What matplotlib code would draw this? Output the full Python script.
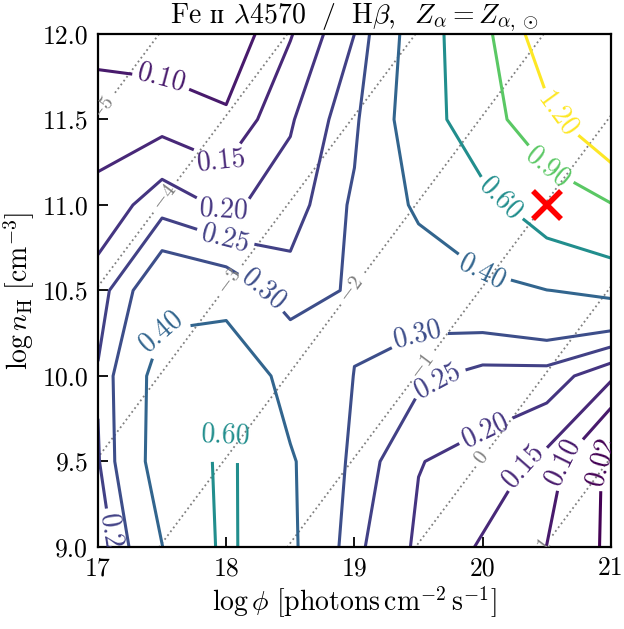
"""
Fe II 4570 / Hbeta line ratio over the (phi, n_H) grid, solar alpha abundance.
"""

import numpy as np
import matplotlib
matplotlib.use("Agg")
import matplotlib.pyplot as plt

# --------------------------------------------------
# DATA
# --------------------------------------------------

LOG_PHI = [17.0, 17.5, 18.0, 18.5, 19.0, 19.5, 20.0, 20.5, 21.0]
LOG_NH  = [9.0, 9.5, 10.0, 10.5, 11.0, 11.5, 12.0]

# ratio on the grid, one row per log n_H value (bottom to top)
RATIO = [
    [0.208, 0.398, 0.640, 0.419, 0.262, 0.191, 0.144, 0.099, 0.003],
    [0.245, 0.455, 0.640, 0.412, 0.282, 0.202, 0.182, 0.135, 0.000],
    [0.255, 0.446, 0.507, 0.354, 0.299, 0.262, 0.233, 0.230, 0.160],
    [0.226, 0.361, 0.342, 0.272, 0.308, 0.340, 0.365, 0.398, 0.425],
    [0.164, 0.230, 0.190, 0.224, 0.310, 0.417, 0.529, 0.727, 0.886],
    [0.128, 0.130, 0.108, 0.194, 0.287, 0.470, 0.765, 1.120, 1.520],
    [0.080, 0.068, 0.062, 0.146, 0.250, 0.462, 0.810, 1.400, 1.950],
]

LEVELS   = [0.02, 0.10, 0.15, 0.20, 0.25, 0.30, 0.40, 0.60, 0.90, 1.20]
U_LEVELS = [-5, -4, -3, -2, -1, 0, 1]
LOG_C    = np.log10(2.998e10)

# where the inline labels sit
LABEL_POS = [
    (17.50, 11.76), (17.98, 11.29), (17.99, 10.99), (18.00, 10.82),
    (18.32, 10.54), (17.48, 10.27), (18.00, 9.66), (17.07, 9.05),
    (19.48, 10.27), (19.63, 10.00), (19.99, 9.74), (20.29, 9.49),
    (20.62, 9.50), (20.89, 9.50), (20.00, 10.61), (20.12, 11.02),
    (20.51, 11.22), (20.59, 11.53),
]
U_LABEL_POS = [
    (17.03, 11.56), (17.51, 11.05), (18.02, 10.56), (18.99, 10.50),
    (19.54, 10.05), (19.98, 9.53), (20.46, 9.02),
]

MARKER = (20.5, 11.0)

# --------------------------------------------------
# PLOT
# --------------------------------------------------

plt.rcParams["font.family"] = "serif"
plt.rcParams["font.serif"] = ["cmr10"]
plt.rcParams["mathtext.fontset"] = "cm"
plt.rcParams["mathtext.fallback"] = "stix"
plt.rcParams["axes.formatter.use_mathtext"] = True

fig = plt.figure(figsize=(6.24, 6.29), dpi=100)
ax = fig.add_axes([0.157, 0.1304, 0.822, 0.8156])

X, Y = np.meshgrid(LOG_PHI, LOG_NH)
Z = np.array(RATIO)

# ionisation parameter guide lines
U = X - Y - LOG_C
cu = ax.contour(X, Y, U, levels=U_LEVELS, colors="gray",
                linestyles=":", linewidths=1.3)
ulabels = ax.clabel(cu, fmt=lambda v: r"$%d$" % v, manual=U_LABEL_POS,
                    inline=True, fontsize=15, colors="gray")

cs = ax.contour(X, Y, Z, levels=LEVELS, cmap="viridis", linewidths=2.2)
labels = ax.clabel(cs, fmt="%.2f", manual=LABEL_POS, inline=True, fontsize=20)

# labels near the frame get cut by it, as in the paper figure
for t in list(ulabels) + list(labels):
    t.set_clip_on(True)
    t.set_clip_box(ax.bbox)

ax.plot(*MARKER, marker="x", color="red", ms=20, mew=4)

ax.set_xlim(17, 21)
ax.set_ylim(9, 12)
ax.set_xticks([17, 18, 19, 20, 21])
ax.set_xticklabels(["17", "18", "19", "20", "21"])
ax.set_yticks(LOG_NH)
ax.set_yticklabels(["%.1f" % v for v in LOG_NH])
ax.tick_params(direction="in", length=7, width=1.3, labelsize=18.5, pad=7)
for s in ax.spines.values():
    s.set_linewidth(1.6)

ax.set_xlabel(r"$\log\phi\ [\mathrm{photons\,cm^{-2}\,s^{-1}}]$", fontsize=20,
              labelpad=3)
ax.set_ylabel(r"$\log n_{\rm H}\ [\mathrm{cm^{-3}}]$", fontsize=20, labelpad=4)
ax.set_title(r"Fe $\mathrm{ɪɪ}$ $\lambda4570\ \ /\ \ $H$\beta$,  "
             r"$Z_\alpha = Z_{\alpha,\odot}$", fontsize=20, pad=5)

fig.savefig("out.png", dpi=100)
